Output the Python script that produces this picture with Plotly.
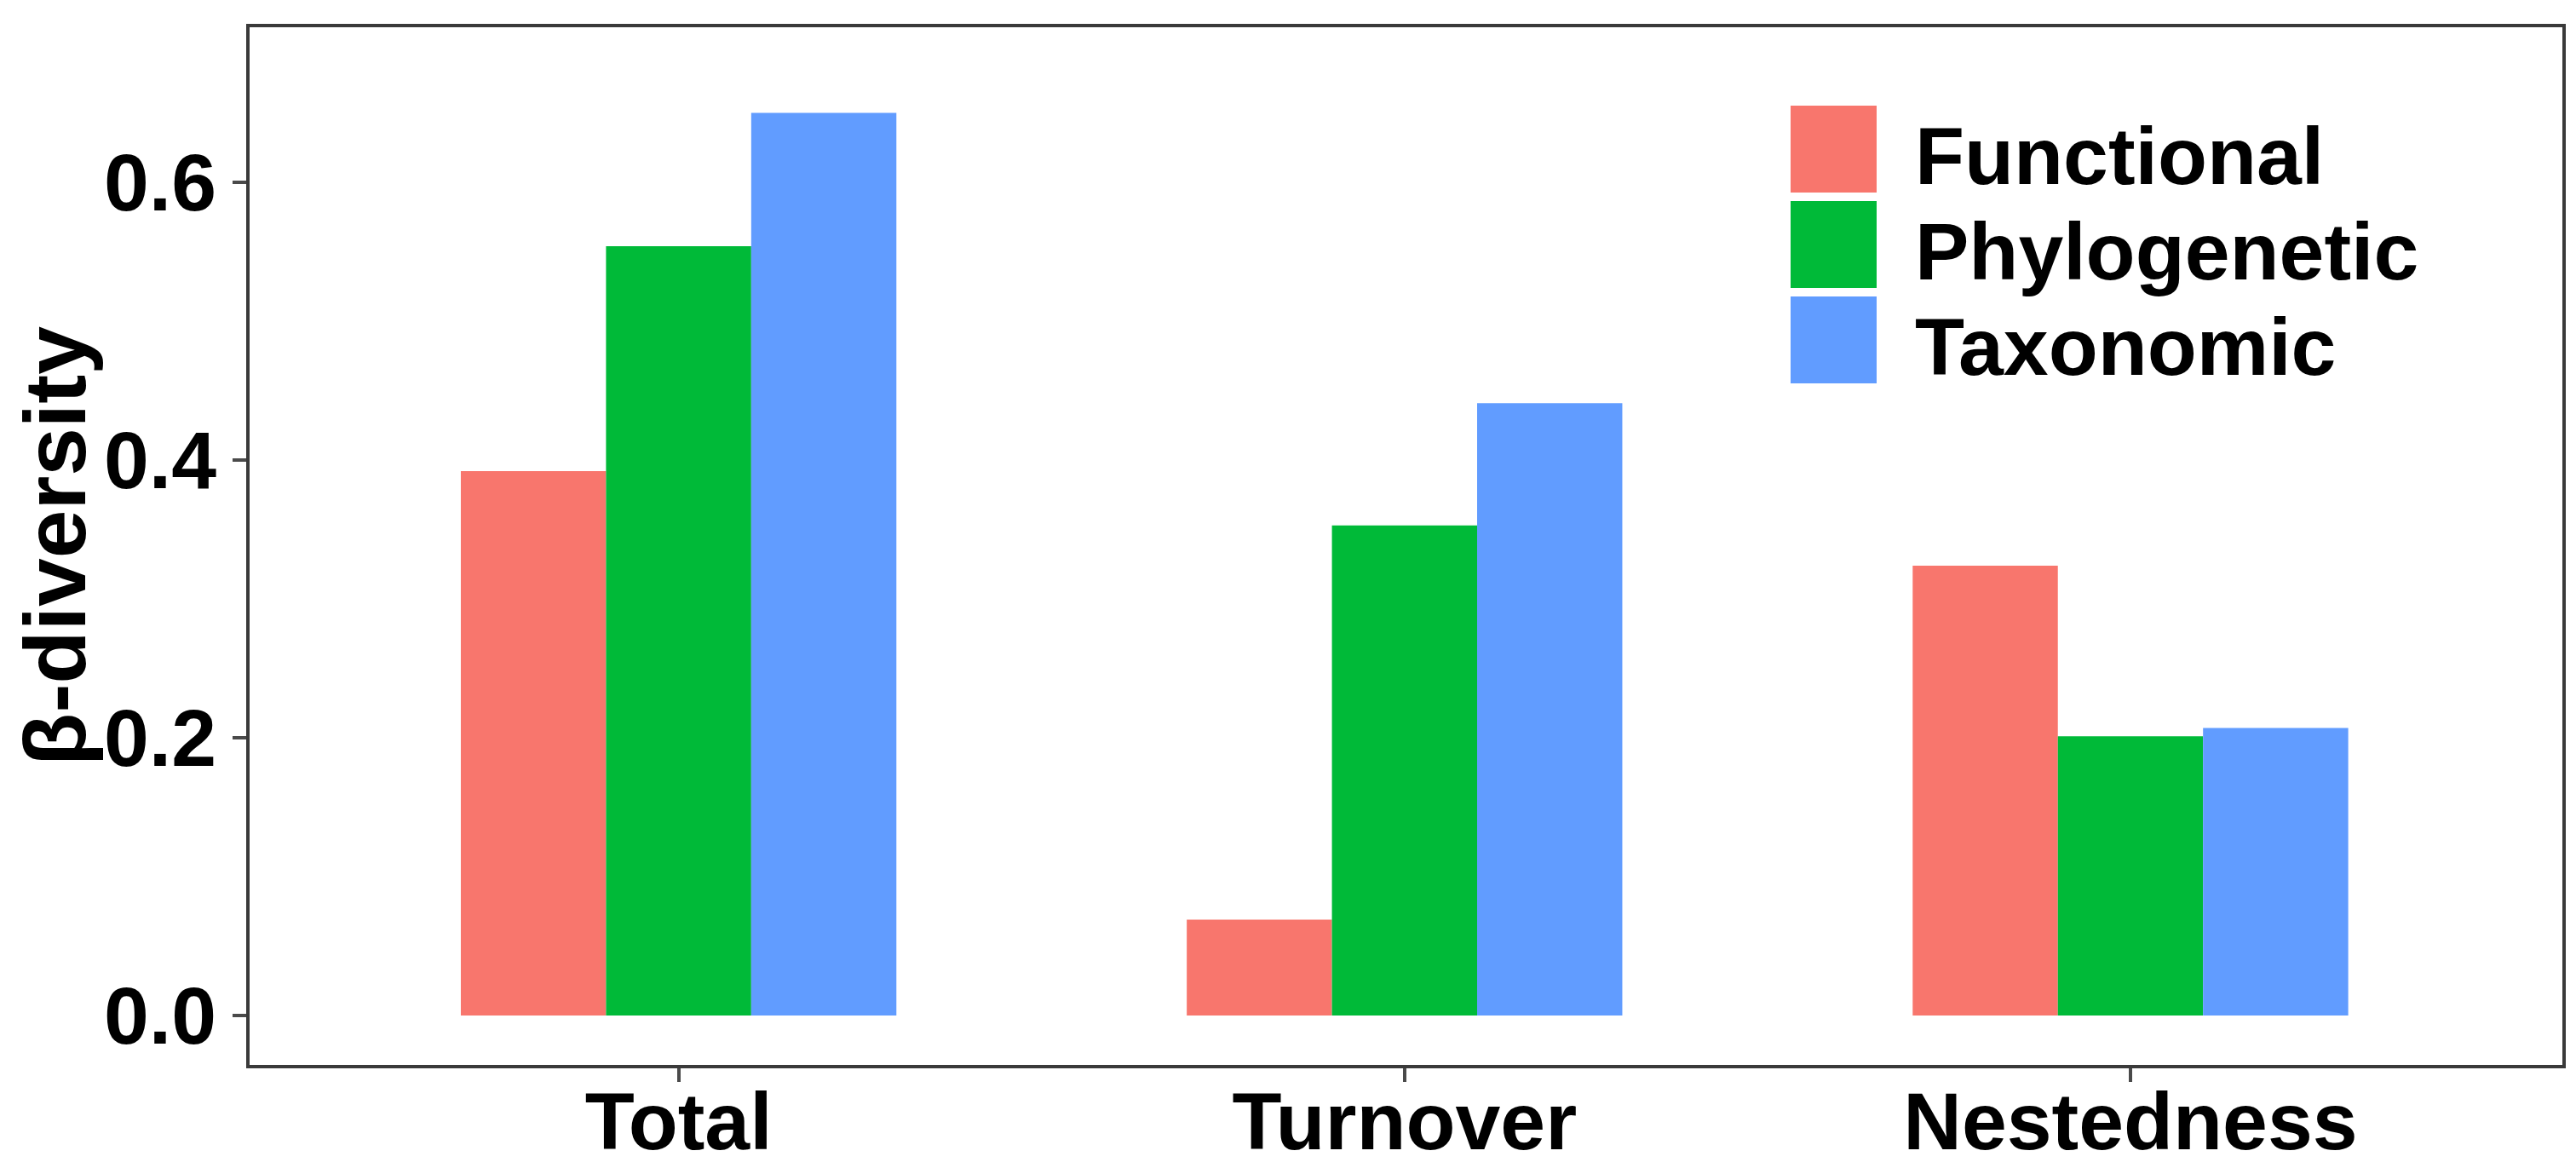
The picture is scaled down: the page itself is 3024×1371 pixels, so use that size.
import plotly.graph_objects as go

categories = ["Total", "Turnover", "Nestedness"]
series_names = ["Functional", "Phylogenetic", "Taxonomic"]
functional = [0.392, 0.069, 0.324]
phylogenetic = [0.554, 0.353, 0.201]
taxonomic = [0.650, 0.441, 0.207]
y_ticks = [0.0, 0.2, 0.4, 0.6]
y_ticklabels = ["0.0", "0.2", "0.4", "0.6"]

colors = ["#F8766D", "#00BA38", "#619CFF"]
values = [functional, phylogenetic, taxonomic]

W, H = 3024, 1371
L, R, T, B = 285, 3000, 24, 1242
FONT = dict(family="Liberation Sans, Arial, sans-serif", color="black", weight="bold")

fig = go.Figure()
for name, vals, col in zip(series_names, values, colors):
    fig.add_trace(go.Bar(x=categories, y=vals, name=name, marker=dict(color=col, line=dict(width=0)),
                         showlegend=False))

axis_common = dict(showline=True, mirror=True, linecolor="#3a3a3a", linewidth=4,
                   ticks="outside", ticklen=16, tickwidth=4, tickcolor="#4a4a4a",
                   showgrid=False, zeroline=False)

fig.update_layout(
    width=W, height=H,
    margin=dict(l=L, r=W - R, t=T, b=H - B, autoexpand=False),
    paper_bgcolor="white", plot_bgcolor="white",
    barmode="group", bargap=0.4, bargroupgap=0,
    xaxis=dict(range=[-0.591, 2.595], tickfont=dict(size=95, **FONT),
               ticklabelstandoff=-35, **axis_common),
    yaxis=dict(range=[-0.0356, 0.7117], tickvals=y_ticks, ticktext=y_ticklabels,
               tickfont=dict(size=95, **FONT),
               title=dict(text="β-diversity", font=dict(size=102, **FONT), standoff=30),
               **axis_common),
)

# legend drawn manually (large keys as in reference)
def px_to_paper_x(px):
    return (px - L) / (R - L)

def px_to_paper_y(py):
    return (B - py) / (B - T)

key_x0, key_x1 = 2094, 2195
key_tops = [116, 228, 340]
key_h = 102
text_x = 2238
for name, col, top in zip(series_names, colors, key_tops):
    fig.add_shape(type="rect", xref="paper", yref="paper",
                  x0=px_to_paper_x(key_x0), x1=px_to_paper_x(key_x1),
                  y0=px_to_paper_y(top + key_h), y1=px_to_paper_y(top),
                  fillcolor=col, line=dict(width=0), layer="above")
    fig.add_annotation(xref="paper", yref="paper", x=px_to_paper_x(text_x),
                       y=px_to_paper_y(top + key_h / 2 + 8), text=name, showarrow=False,
                       xanchor="left", yanchor="middle", font=dict(size=95, **FONT))

fig.write_html("out.html")
